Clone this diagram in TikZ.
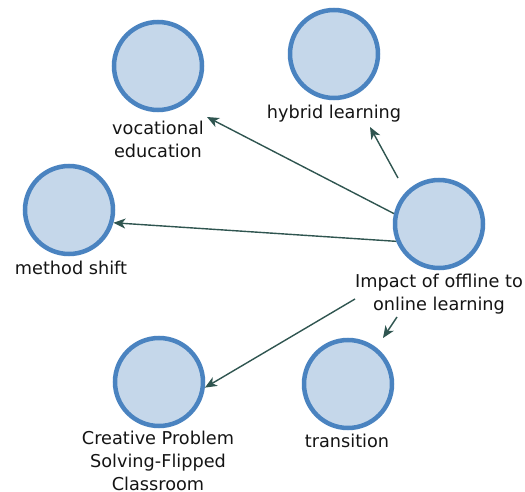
\documentclass[tikz,border=0pt]{standalone}
\usepackage{fontspec}
\setmainfont{DejaVu Sans}
\usetikzlibrary{arrows.meta}
\definecolor{nodefill}{HTML}{C5D7EA}
\definecolor{nodeline}{HTML}{4A83C0}
\definecolor{edgecol}{HTML}{2F5550}
\begin{document}
\begin{tikzpicture}[x=1pt,y=-1pt,
  bubble/.style={circle, draw=nodeline, fill=nodefill, line width=4.5pt, minimum size=88pt, inner sep=0pt},
  lab/.style={font=\fontsize{17.7}{23}\selectfont, align=center, inner sep=0pt, anchor=north, text=black!92},
  edge/.style={draw=edgecol, line width=1.4pt, -{Stealth[length=12pt,width=10pt,inset=3.5pt]}}]
\useasboundingbox (0,0) rectangle (525,492);
\node[bubble] (voc) at (158,66) {};
\node[bubble] (hyb) at (334,54) {};
\node[bubble] (ms)  at (69,210) {};
\node[bubble] (imp) at (439,224) {};
\node[bubble] (cps) at (159,382) {};
\node[bubble] (tr)  at (348,384) {};
\node[lab] (vocl) at (158,120.5) {vocational\\education};
\node[lab] (hybl) at (334,104.5) {hybrid learning};
\node[lab] (msl)  at (71,260.5) {method shift};
\node[lab] (impl) at (439,273.5) {Impact of offline to\\online learning};
\node[lab] (cpsl) at (158,431) {Creative Problem\\Solving-Flipped\\Classroom};
\node[lab] (trl)  at (347,433.5) {transition};
\coordinate (vocT) at (207,117);
\coordinate (hybS) at (398,178);
\coordinate (hybT) at (370,127);
\coordinate (cpsS) at (355,299);
\coordinate (trS) at (397,317);
\coordinate (trT) at (383,338);
\draw[edge] (imp.167) -- (vocT);
\draw[edge] (hybS) -- (hybT);
\draw[edge] (imp.202) -- (ms.-16);
\draw[edge] (cpsS) -- (cps.-7);
\draw[edge] (trS) -- (trT);
\end{tikzpicture}
\end{document}
